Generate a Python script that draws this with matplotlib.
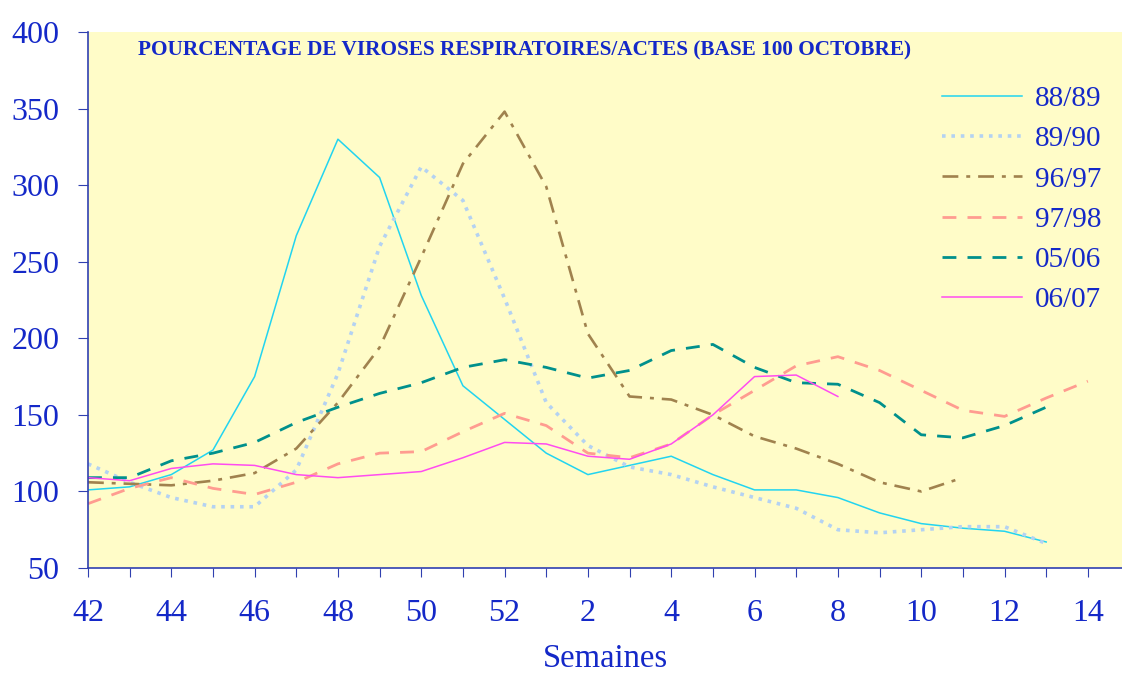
import matplotlib
matplotlib.use("Agg")
import matplotlib.pyplot as plt

# weeks 42..52 then 1..14
weeks = [42, 43, 44, 45, 46, 47, 48, 49, 50, 51, 52,
         1, 2, 3, 4, 5, 6, 7, 8, 9, 10, 11, 12, 13, 14]
tick_labels = [str(w) if w % 2 == 0 else "" for w in weeks]

s_8889 = [101, 103, 111, 127, 175, 267, 330, 305, 228, 169, 147,
          125, 111, 117, 123, 111, 101, 101, 96, 86, 79, 76, 74, 67]
s_8990 = [118, 106, 96, 90, 90, 114, 177, 260, 312, 290, 226,
          158, 130, 116, 111, 103, 96, 89, 75, 73, 75, 77, 77, 66]
s_9697 = [106, 105, 104, 107, 112, 128, 158, 194, 253, 314, 348,
          299, 203, 162, 160, 150, 136, 128, 118, 106, 100, 109]
s_9798 = [92, 102, 109, 102, 98, 106, 118, 125, 126, 139, 151,
          143, 125, 122, 131, 150, 166, 182, 188, 179, 166, 153, 149, 161, 172]
s_0506 = [109, 109, 120, 125, 132, 145, 155, 164, 171, 181, 186,
          181, 174, 179, 192, 196, 181, 171, 170, 158, 137, 135, 143, 155]
s_0607 = [109, 107, 115, 118, 117, 111, 109, 111, 113, 122, 132,
          131, 123, 121, 131, 150, 175, 176, 162]

series = [
    ("88/89", s_8889, dict(color="#22D4F0", linestyle="-", linewidth=1.1)),
    ("89/90", s_8990, dict(color="#B4D2F2", linestyle=(0, (1, 1.6)), linewidth=2.6)),
    ("96/97", s_9697, dict(color="#A0824E", linestyle=(0, (6, 3, 1.5, 3)), linewidth=1.9)),
    ("97/98", s_9798, dict(color="#FF9C90", linestyle=(0, (5, 4)), linewidth=2.0)),
    ("05/06", s_0506, dict(color="#00908C", linestyle=(0, (5, 4)), linewidth=2.0)),
    ("06/07", s_0607, dict(color="#FF4CF0", linestyle="-", linewidth=1.1)),
]

blue = "#1428C8"
axis_col = "#3040B0"
plt.rcParams["font.family"] = ["Liberation Serif", "DejaVu Serif"]

fig = plt.figure(figsize=(11.22, 6.75), dpi=100)
ax = fig.add_axes([0.0784, 0.1585, 0.9216, 0.7941])
ax.set_facecolor("#FFFCC8")

for label, vals, style in series:
    ax.plot(range(len(vals)), vals, label=label, **style)

ax.set_xlim(0, 24.82)
ax.set_ylim(50, 400)
ax.set_xticks(range(len(weeks)))
ax.set_xticklabels(tick_labels)
ax.set_yticks(range(50, 401, 50))

for side in ["top", "right"]:
    ax.spines[side].set_visible(False)
for side in ["left", "bottom"]:
    ax.spines[side].set_color(axis_col)
    ax.spines[side].set_linewidth(1.2)

ax.tick_params(axis="x", direction="out", length=6.5, colors=axis_col,
               labelcolor=blue, labelsize=23, pad=16)
ax.tick_params(axis="y", direction="out", length=7.5, colors=axis_col,
               labelcolor=blue, labelsize=23, pad=13)

ax.set_xlabel("Semaines", color=blue, fontsize=23.5, labelpad=11)
ax.text(0.048, 0.985, "POURCENTAGE DE VIROSES RESPIRATOIRES/ACTES (BASE 100 OCTOBRE)",
        transform=ax.transAxes, color=blue, fontsize=15.3, fontweight="bold",
        va="top", ha="left")

leg = ax.legend(loc="upper right", bbox_to_anchor=(1.006, 0.949), frameon=False,
                fontsize=21, handlelength=2.75, labelspacing=0.475,
                handletextpad=0.45)
for t in leg.get_texts():
    t.set_color(blue)

fig.savefig("out.png", dpi=100)
